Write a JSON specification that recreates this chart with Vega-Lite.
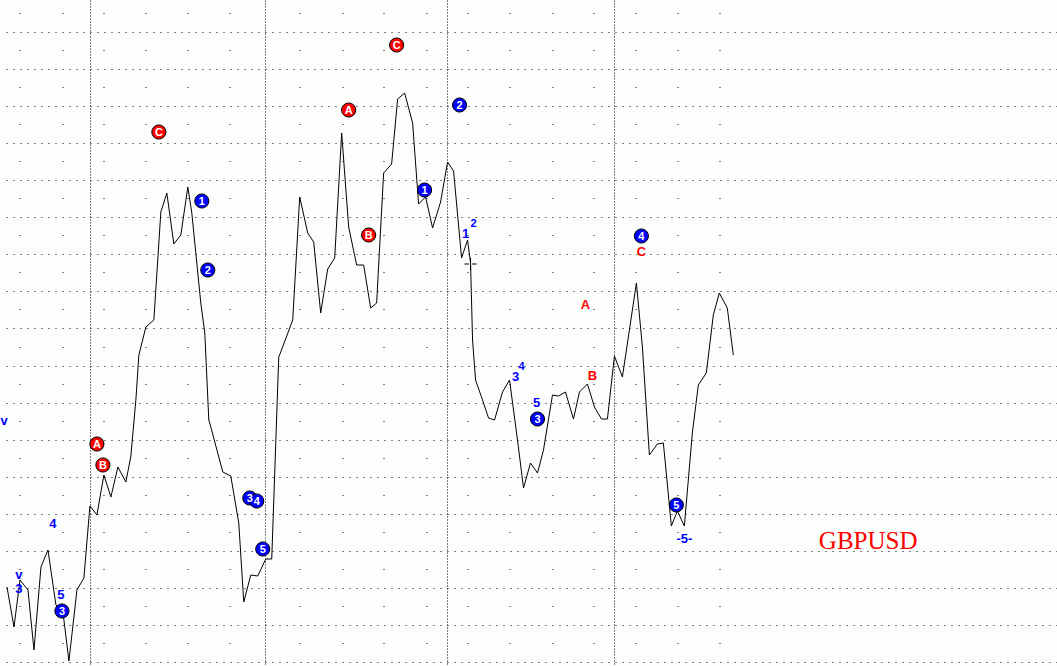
{
  "$schema": "https://vega.github.io/schema/vega-lite/v6.json",
  "width": 1057,
  "height": 666,
  "autosize": {"type": "fit", "contains": "padding"},
  "padding": 0,
  "background": "#fcfefc",
  "config": {"view": {"stroke": null}},
  "resolve": {"axis": {"x": "independent", "y": "independent"}},
  "datasets": {
    "prices": [
      {"t": 6, "price": 1.5445}, {"t": 13, "price": 1.5405}, {"t": 19, "price": 1.5452}, {"t": 27, "price": 1.5442},
      {"t": 33, "price": 1.5382}, {"t": 40, "price": 1.5465}, {"t": 47, "price": 1.5482}, {"t": 55, "price": 1.5427},
      {"t": 62, "price": 1.5420}, {"t": 68, "price": 1.5371}, {"t": 76, "price": 1.5442}, {"t": 83, "price": 1.5454},
      {"t": 89, "price": 1.5526}, {"t": 96, "price": 1.5517}, {"t": 103, "price": 1.5557}, {"t": 110, "price": 1.5535},
      {"t": 117, "price": 1.5565}, {"t": 125, "price": 1.5550}, {"t": 130, "price": 1.5576}, {"t": 135, "price": 1.5632},
      {"t": 138, "price": 1.5677}, {"t": 145, "price": 1.5705}, {"t": 153, "price": 1.5712}, {"t": 160, "price": 1.5820},
      {"t": 166, "price": 1.5839}, {"t": 173, "price": 1.5788}, {"t": 180, "price": 1.5797}, {"t": 187, "price": 1.5845},
      {"t": 191, "price": 1.5819}, {"t": 200, "price": 1.5729}, {"t": 204, "price": 1.5699}, {"t": 208, "price": 1.5612},
      {"t": 210, "price": 1.5605}, {"t": 222, "price": 1.5560}, {"t": 230, "price": 1.5556}, {"t": 238, "price": 1.5509},
      {"t": 243, "price": 1.5430}, {"t": 250, "price": 1.5457}, {"t": 257, "price": 1.5456}, {"t": 265, "price": 1.5473},
      {"t": 271, "price": 1.5473}, {"t": 272, "price": 1.5502}, {"t": 278, "price": 1.5675}, {"t": 280, "price": 1.5680},
      {"t": 292, "price": 1.5712}, {"t": 299, "price": 1.5835}, {"t": 307, "price": 1.5799}, {"t": 313, "price": 1.5790},
      {"t": 320, "price": 1.5719}, {"t": 327, "price": 1.5763}, {"t": 334, "price": 1.5774}, {"t": 341, "price": 1.5899},
      {"t": 348, "price": 1.5805}, {"t": 356, "price": 1.5767}, {"t": 363, "price": 1.5767}, {"t": 370, "price": 1.5724},
      {"t": 376, "price": 1.5729}, {"t": 383, "price": 1.5859}, {"t": 391, "price": 1.5868}, {"t": 397, "price": 1.5933},
      {"t": 404, "price": 1.5939}, {"t": 412, "price": 1.5909}, {"t": 418, "price": 1.5828}, {"t": 425, "price": 1.5835},
      {"t": 432, "price": 1.5804}, {"t": 440, "price": 1.5830}, {"t": 447, "price": 1.5870}, {"t": 453, "price": 1.5861},
      {"t": 461, "price": 1.5774}, {"t": 467, "price": 1.5792}, {"t": 470, "price": 1.5769}, {"t": 472, "price": 1.5692},
      {"t": 475, "price": 1.5652}, {"t": 482, "price": 1.5632}, {"t": 488, "price": 1.5614}, {"t": 494, "price": 1.5612},
      {"t": 502, "price": 1.5640}, {"t": 509, "price": 1.5652}, {"t": 517, "price": 1.5592}, {"t": 523, "price": 1.5544},
      {"t": 530, "price": 1.5569}, {"t": 537, "price": 1.5559}, {"t": 543, "price": 1.5582}, {"t": 552, "price": 1.5637},
      {"t": 558, "price": 1.5636}, {"t": 565, "price": 1.5640}, {"t": 573, "price": 1.5613}, {"t": 579, "price": 1.5640},
      {"t": 587, "price": 1.5648}, {"t": 594, "price": 1.5625}, {"t": 601, "price": 1.5613}, {"t": 607, "price": 1.5613},
      {"t": 614, "price": 1.5676}, {"t": 622, "price": 1.5655}, {"t": 636, "price": 1.5749}, {"t": 642, "price": 1.5685},
      {"t": 649, "price": 1.5577}, {"t": 657, "price": 1.5588}, {"t": 663, "price": 1.5589}, {"t": 671, "price": 1.5506},
      {"t": 677, "price": 1.5521}, {"t": 684, "price": 1.5506}, {"t": 692, "price": 1.5599}, {"t": 698, "price": 1.5647},
      {"t": 706, "price": 1.5659}, {"t": 713, "price": 1.5717}, {"t": 719, "price": 1.5739}, {"t": 727, "price": 1.5724},
      {"t": 733, "price": 1.5677}
    ],
    "waves": [
      {"label": "C", "degree": "corrective", "t": 158, "price": 1.5900},
      {"label": "A", "degree": "corrective", "t": 348, "price": 1.5922},
      {"label": "C", "degree": "corrective", "t": 396, "price": 1.5987},
      {"label": "B", "degree": "corrective", "t": 368, "price": 1.5797},
      {"label": "A", "degree": "corrective", "t": 96, "price": 1.5588},
      {"label": "B", "degree": "corrective", "t": 102, "price": 1.5567},
      {"label": "1", "degree": "impulse", "t": 201, "price": 1.5831},
      {"label": "2", "degree": "impulse", "t": 207, "price": 1.5762},
      {"label": "2", "degree": "impulse", "t": 459, "price": 1.5927},
      {"label": "1", "degree": "impulse", "t": 424, "price": 1.5842},
      {"label": "3", "degree": "impulse", "t": 249, "price": 1.5534},
      {"label": "4", "degree": "impulse", "t": 256, "price": 1.5531},
      {"label": "5", "degree": "impulse", "t": 262, "price": 1.5483},
      {"label": "3", "degree": "impulse", "t": 537, "price": 1.5613},
      {"label": "4", "degree": "impulse", "t": 641, "price": 1.5796},
      {"label": "5", "degree": "impulse", "t": 676, "price": 1.5527},
      {"label": "3", "degree": "impulse", "t": 61, "price": 1.5421}
    ],
    "notes": [
      {"label": "4", "degree": "impulse", "sup": false, "t": 52, "price": 1.5508},
      {"label": "5", "degree": "impulse", "sup": false, "t": 60, "price": 1.5437},
      {"label": "3", "degree": "impulse", "sup": false, "t": 18, "price": 1.5443},
      {"label": "v", "degree": "impulse", "sup": false, "t": 18, "price": 1.5457},
      {"label": "v", "degree": "impulse", "sup": false, "t": 3, "price": 1.5611},
      {"label": "1", "degree": "impulse", "sup": false, "t": 465, "price": 1.5798},
      {"label": "2", "degree": "impulse", "sup": true, "t": 473, "price": 1.5808},
      {"label": "3", "degree": "impulse", "sup": false, "t": 515, "price": 1.5655},
      {"label": "4", "degree": "impulse", "sup": true, "t": 521, "price": 1.5665},
      {"label": "5", "degree": "impulse", "sup": false, "t": 536, "price": 1.5629},
      {"label": "-5-", "degree": "impulse", "sup": false, "t": 684, "price": 1.5493},
      {"label": "A", "degree": "corrective", "sup": false, "t": 585, "price": 1.5727},
      {"label": "B", "degree": "corrective", "sup": false, "t": 592, "price": 1.5656},
      {"label": "C", "degree": "corrective", "sup": false, "t": 641, "price": 1.5780}
    ],
    "title": [{"label": "GBPUSD", "t": 868, "price": 1.5491}],
    "cursor": [{"t": 470, "price": 1.5768}]
  },
  "layer": [
    {
      "data": {"name": "prices"},
      "mark": {"type": "line", "color": "#000000", "strokeWidth": 1},
      "encoding": {
        "x": {
          "field": "t", "type": "quantitative",
          "scale": {"domain": [0, 1057], "nice": false, "zero": false},
          "axis": {
            "title": null, "labels": false, "ticks": false, "domain": false, "grid": true,
            "values": [89, 264, 446, 614],
            "gridColor": "#000000", "gridOpacity": 1, "gridWidth": 1,
            "gridDash": [1, 2], "gridDashOffset": 0
          }
        },
        "y": {
          "field": "price", "type": "quantitative",
          "scale": {"domain": [1.5366, 1.6032], "nice": false, "zero": false},
          "axis": {
            "title": null, "labels": false, "ticks": false, "domain": false, "grid": true,
            "values": [1.6, 1.596294, 1.592588, 1.588882, 1.585176, 1.58147, 1.577764, 1.574058, 1.570352, 1.566646, 1.56294, 1.559234, 1.555528, 1.551822, 1.548116, 1.54441, 1.540704, 1.536998],
            "gridColor": "#000000", "gridOpacity": 1, "gridWidth": 1,
            "gridDash": [1, 6], "gridDashOffset": 2
          }
        }
      }
    },
    {
      "data": {"name": "cursor"},
      "mark": {"type": "point", "shape": "M-1,0H-0.25M0.25,0H1M0,-1V-0.25M0,0.25V1", "size": 150, "stroke": "#000000", "strokeWidth": 1, "filled": false, "opacity": 1},
      "encoding": {
        "x": {"field": "t", "type": "quantitative", "axis": null},
        "y": {
          "field": "price", "type": "quantitative",
          "axis": {
            "orient": "right", "title": null, "labels": false, "ticks": false, "domain": false, "grid": true,
            "values": [1.6019, 1.598194, 1.594488, 1.590782, 1.587076, 1.58337, 1.579664, 1.575958, 1.572252, 1.568546, 1.56484, 1.561134, 1.557428, 1.553722, 1.550016, 1.54631, 1.542604, 1.538898],
            "gridColor": "#000000", "gridOpacity": 1, "gridWidth": 1,
            "gridDash": [0, 337, 1, 41, 1, 41, 1, 41, 1, 40, 1, 42, 1, 41, 1, 40, 1, 42, 1, 40, 1, 42, 1, 69, 1, 41, 1, 41, 1, 41, 1, 40, 1, 42, 1, 2000],
            "gridDashOffset": 0
          }
        }
      }
    },
    {
      "data": {"name": "waves"},
      "mark": {"type": "point", "shape": "circle", "filled": true, "size": 200, "stroke": "#000000", "strokeWidth": 1, "opacity": 1},
      "encoding": {
        "x": {"field": "t", "type": "quantitative", "axis": null},
        "y": {"field": "price", "type": "quantitative", "axis": null},
        "fill": {"field": "degree", "type": "nominal", "scale": {"domain": ["corrective", "impulse"], "range": ["#ff0000", "#0000ff"]}, "legend": null}
      }
    },
    {
      "data": {"name": "waves"},
      "mark": {"type": "text", "color": "#ffffff", "font": "Liberation Sans", "fontWeight": "bold", "fontSize": 11, "align": "center", "baseline": "middle", "dy": 1},
      "encoding": {
        "x": {"field": "t", "type": "quantitative", "axis": null},
        "y": {"field": "price", "type": "quantitative", "axis": null},
        "text": {"field": "label"}
      }
    },
    {
      "data": {"name": "notes"},
      "mark": {"type": "text", "font": "Liberation Sans", "fontWeight": "bold", "align": "center", "baseline": "middle"},
      "encoding": {
        "x": {"field": "t", "type": "quantitative", "axis": null},
        "y": {"field": "price", "type": "quantitative", "axis": null},
        "text": {"field": "label"},
        "color": {"field": "degree", "type": "nominal", "scale": {"domain": ["corrective", "impulse"], "range": ["#ff0000", "#0000ff"]}, "legend": null},
        "size": {"condition": {"test": "datum.sup", "value": 11}, "value": 13}
      }
    },
    {
      "data": {"name": "title"},
      "mark": {"type": "text", "font": "Liberation Serif", "fontSize": 25, "color": "#ff0000", "align": "center", "baseline": "middle"},
      "encoding": {
        "x": {"field": "t", "type": "quantitative", "axis": null},
        "y": {"field": "price", "type": "quantitative", "axis": null},
        "text": {"field": "label"}
      }
    }
  ]
}
